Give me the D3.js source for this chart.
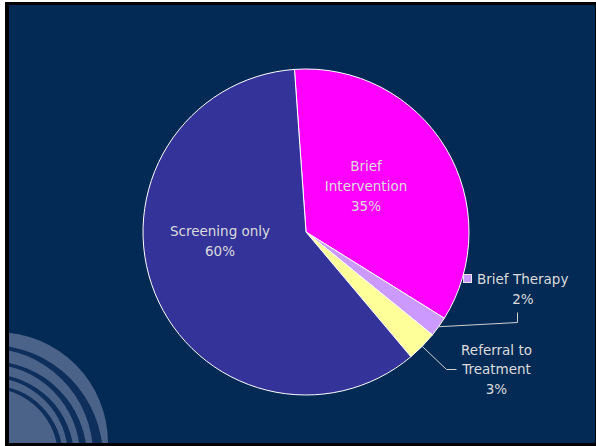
<!DOCTYPE html>
<html>
<head>
<meta charset="utf-8">
<script src="https://cdn.jsdelivr.net/npm/d3@7"></script>
<style>
  html, body { margin: 0; padding: 0; background: #ffffff; }
  svg { display: block; }
  text { font-family: "DejaVu Sans", Verdana, sans-serif; font-size: 13.5px; fill: #dcdcdc; }
</style>
</head>
<body>
<svg id="chart" width="596" height="446"></svg>
<script>
// Share of patients by SBIRT service level
const categories = ["Brief Intervention", "Brief Therapy", "Referral to Treatment", "Screening only"];
const values = [35, 2, 3, 60];
const colors = ["#ff00ff", "#cc99ff", "#ffff99", "#333399"];
const labelLines = [["Brief", "Intervention", "35%"], ["Brief Therapy", "2%"], ["Referral to", "Treatment", "3%"], ["Screening only", "60%"]];

const W = 596, H = 446;
const svg = d3.select("#chart");

// slide frame
svg.append("rect").attr("x", 5).attr("y", 2).attr("width", 591).attr("height", 444).attr("fill", "#000000");
svg.append("rect").attr("x", 9).attr("y", 5).attr("width", 586).attr("height", 438).attr("fill", "#022a55");

svg.append("clipPath").attr("id", "slideClip")
  .append("rect").attr("x", 9).attr("y", 5).attr("width", 586).attr("height", 438);

// decorative rings in the lower-left corner
const deco = svg.append("g").attr("clip-path", "url(#slideClip)");
deco.append("circle").attr("cx", -3).attr("cy", 443).attr("r", 111).attr("fill", "#4b6388");
const rings = [
  { r: 113, top: 3, side: 10 },
  { r: 97, top: 3, side: 7 },
  { r: 84, top: 3, side: 6 },
  { r: 73, top: 3, side: 5 }
];
const ringCx = -10, ringCy = 458;
function circlePath(cx, cy, r) {
  return `M${cx - r},${cy}A${r},${r} 0 1,0 ${cx + r},${cy}A${r},${r} 0 1,0 ${cx - r},${cy}Z`;
}
rings.forEach(g => {
  const t = (g.top + g.side) / 2, d = (g.side - g.top) / 2;
  deco.append("path")
    .attr("d", circlePath(ringCx, ringCy, g.r) + circlePath(ringCx - d, ringCy - d, g.r - t))
    .attr("fill-rule", "evenodd")
    .attr("fill", "#0e2e5c");
});

// pie
const cx = 306, cy = 232, R = 163;
const startDeg = -4.06;
const pie = d3.pie().sort(null).value(d => d)
  .startAngle(startDeg * Math.PI / 180)
  .endAngle((startDeg + 360) * Math.PI / 180);
const arcs = pie(values);
const arc = d3.arc().innerRadius(0).outerRadius(R);

const g = svg.append("g").attr("transform", `translate(${cx},${cy})`);
g.selectAll("path.slice").data(arcs).enter().append("path")
  .attr("class", "slice")
  .attr("d", arc)
  .attr("fill", (d, i) => colors[i])
  .attr("stroke", "#ffffff")
  .attr("stroke-width", 1);

// label helper: multiple centered lines
function label(lines, x, baselines, anchor) {
  const t = svg.append("text").attr("text-anchor", anchor || "middle");
  lines.forEach((s, k) => t.append("tspan").attr("x", x).attr("y", baselines[k]).text(s));
}

// labels inside the two large slices
label(labelLines[0], 366, [171, 191, 211]);
label(labelLines[3], 220, [236, 256]);

// Brief Therapy: legend key, text and leader line
const btMid = (arcs[1].startAngle + arcs[1].endAngle) / 2;
const btEdge = [cx + R * Math.sin(btMid), cy - R * Math.cos(btMid)];
svg.append("path")
  .attr("d", `M${btEdge[0]},${btEdge[1]}L517.5,322.5L517.5,312.5`)
  .attr("fill", "none").attr("stroke", "#d0d0d0").attr("stroke-width", 1);
svg.append("rect").attr("x", 463.5).attr("y", 274.5).attr("width", 8).attr("height", 8)
  .attr("fill", colors[1]).attr("stroke", "#e8e8e8").attr("stroke-width", 1);
svg.append("text").attr("x", 477).attr("y", 283.5).text(labelLines[1][0]);
label([labelLines[1][1]], 523, [303.5]);

// Referral to Treatment: text and leader line
const rtMid = (arcs[2].startAngle + arcs[2].endAngle) / 2;
const rtEdge = [cx + R * Math.sin(rtMid), cy - R * Math.cos(rtMid)];
svg.append("path")
  .attr("d", `M${rtEdge[0]},${rtEdge[1]}L446.5,369.5L456.5,369.5`)
  .attr("fill", "none").attr("stroke", "#d0d0d0").attr("stroke-width", 1);
label(labelLines[2], 496.5, [354.5, 373.5, 393.5]);
</script>
</body>
</html>
